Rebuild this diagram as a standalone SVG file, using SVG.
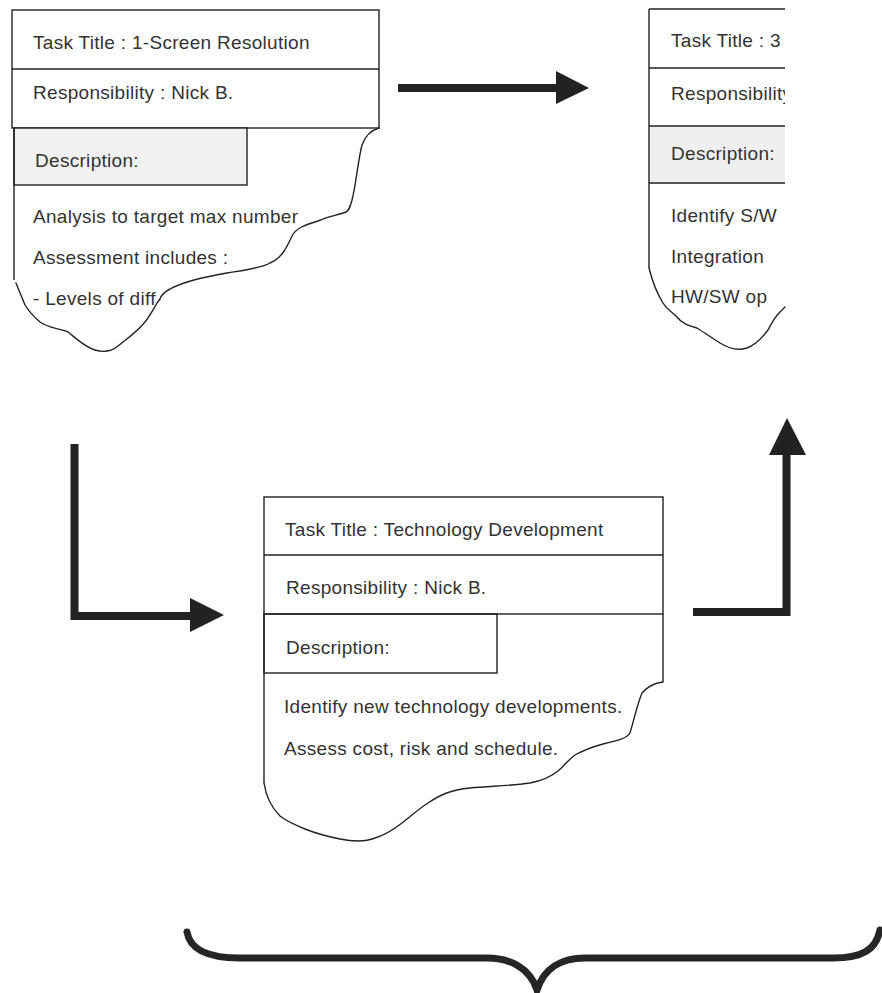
<svg xmlns="http://www.w3.org/2000/svg" width="882" height="993" viewBox="0 0 882 993">
  <style>
    .frame { fill: none; stroke: #222; stroke-width: 1.4; }
    .tear { fill: none; stroke: #222; stroke-width: 1.4; stroke-linejoin: round; stroke-linecap: round; }
    .shade { fill: #f1f1f1; stroke: #222; stroke-width: 1.4; }
    .lbl { font-family: "Liberation Sans", Arial, sans-serif; font-size: 19px; fill: #333; letter-spacing: 0.3px; }
    .bar { fill: none; stroke: #222; stroke-width: 8; stroke-linejoin: miter; }
    .head { fill: #222; }
    .brace { fill: none; stroke: #262626; stroke-width: 7; stroke-linecap: round; }
  </style>
  <defs>
    <clipPath id="cutRight">
      <rect x="600" y="0" width="185" height="400"/>
    </clipPath>
  </defs>
  <rect width="882" height="993" fill="#fff"/>

  <!-- Task card: 1-Screen Resolution -->
  <g id="card-screen-resolution">
    <rect x="12" y="10" width="367" height="118" fill="#fff" class="frame"/>
    <line x1="12" y1="69" x2="379" y2="69" class="frame"/>
    <rect x="14" y="128" width="233" height="57" class="shade"/>
    <line x1="14" y1="128" x2="14" y2="280" class="frame"/>
    <path class="tear" d="M379,128 C372,130 365,136 362,145 C358,160 356,185 352,200 C350,207 349,211 346,212 C338,215 326,217 318,221 C305,225 296,228 292,236 C287,247 282,258 270,263 C262,268 245,270 227,273 C205,277 185,281 170,289 C164,292 161,296 160,299 L157,303 C153,310 150,316 145,322 C137,332 128,338 118,346 C112,351 105,353 95,350 C85,347 78,340 68,332 C58,328 48,328 40,322 C33,316 28,310 25,305 L16,283"/>
    <text class="lbl" x="33" y="49">Task Title : 1-Screen Resolution</text>
    <text class="lbl" x="33" y="99">Responsibility : Nick B.</text>
    <text class="lbl" x="35" y="167">Description:</text>
    <text class="lbl" x="33" y="223">Analysis to target max number</text>
    <text class="lbl" x="33" y="264">Assessment includes :</text>
    <text class="lbl" x="33" y="305">- Levels of diff</text>
  </g>

  <!-- Task card: 3 (cut off at the right) -->
  <g id="card-three">
    <g clip-path="url(#cutRight)">
      <rect x="649" y="126" width="200" height="57" fill="#efefef"/>
      <line x1="649" y1="9" x2="800" y2="9" class="frame"/>
      <line x1="649" y1="68" x2="800" y2="68" class="frame"/>
      <line x1="649" y1="126" x2="800" y2="126" class="frame"/>
      <line x1="649" y1="183" x2="800" y2="183" class="frame"/>
      <text class="lbl" x="671" y="47">Task Title : 3</text>
      <text class="lbl" x="671" y="100">Responsibility</text>
      <text class="lbl" x="671" y="160">Description:</text>
      <text class="lbl" x="671" y="222">Identify S/W</text>
      <text class="lbl" x="671" y="263">Integration</text>
      <text class="lbl" x="671" y="303">HW/SW op</text>
    </g>
    <line x1="649" y1="9" x2="649" y2="268" class="frame"/>
    <path class="tear" d="M649,268 C652,280 658,295 663,303 C667,310 672,312 676,316 C682,324 690,326 697,328 C705,333 712,338 720,343 C728,348 738,351 747,348 C755,345 762,338 768,330 C772,322 776,316 780,312 L785,307"/>
  </g>

  <!-- Task card: Technology Development -->
  <g id="card-technology-development">
    <rect x="264" y="497" width="399" height="117" fill="#fff" class="frame"/>
    <line x1="264" y1="555" x2="663" y2="555" class="frame"/>
    <rect x="264" y="614" width="233" height="59" fill="#f7f7f7" class="frame"/>
    <line x1="264" y1="614" x2="264" y2="783" class="frame"/>
    <line x1="663" y1="614" x2="663" y2="682" class="frame"/>
    <path class="tear" d="M663,682 C655,683 647,687 642,693 C637,705 634,720 630,733 C627,738 620,740 603,744 C592,747 584,750 575,755 C568,760 565,765 558,771 C552,776 545,780 530,783 C510,786 490,786 470,788 C450,790 440,795 428,803 C420,808 412,815 402,823 C393,830 385,835 375,838 C365,842 355,842 340,839 C325,836 315,833 305,829 C295,825 288,822 280,816 C272,808 266,797 264,783"/>
    <text class="lbl" x="285" y="536">Task Title : Technology Development</text>
    <text class="lbl" x="286" y="594">Responsibility : Nick B.</text>
    <text class="lbl" x="286" y="654">Description:</text>
    <text class="lbl" x="284" y="713">Identify new technology developments.</text>
    <text class="lbl" x="284" y="755">Assess cost, risk and schedule.</text>
  </g>

  <!-- Flow arrows between the cards -->
  <g id="connectors">
    <line x1="398" y1="88" x2="558" y2="88" class="bar"/>
    <polygon class="head" points="556,71 589,88 556,104"/>

    <polyline points="74.5,444 74.5,616 192,616" class="bar"/>
    <polygon class="head" points="190,598 224,615 190,632"/>

    <polyline points="693,612 786.5,612 786.5,453" class="bar"/>
    <polygon class="head" points="769,455 787,418 806,455"/>
  </g>

  <!-- Grouping brace under the cards -->
  <g id="brace">
    <path class="brace" d="M187,932 C190,950 210,958 240,958 L487,958 C510,958 530,968 537,990 C544,968 562,958 585,958 L833,958 C862,958 876,950 880,930"/>
  </g>
</svg>
